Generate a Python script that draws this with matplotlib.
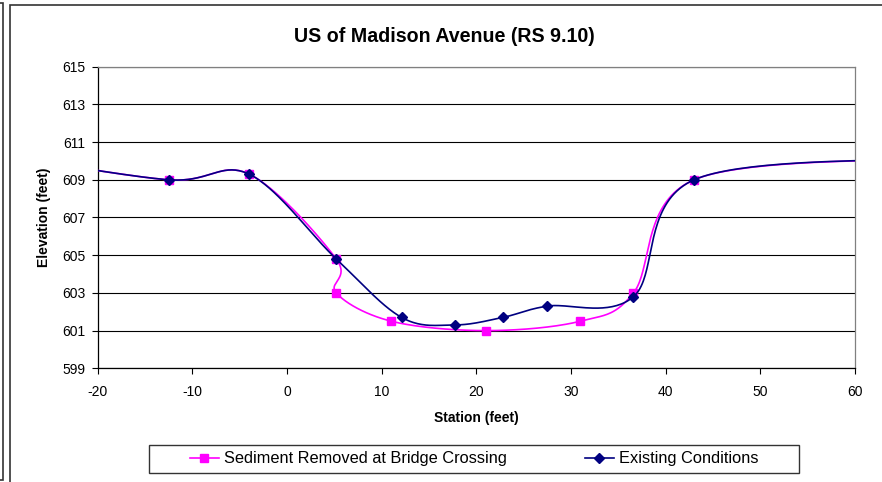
import numpy as np
import matplotlib
matplotlib.use('Agg')
import matplotlib.pyplot as plt
from matplotlib.patches import Rectangle
from matplotlib.lines import Line2D

plt.rcParams['font.family'] = ['Liberation Sans', 'DejaVu Sans']
plt.rcParams['axes.unicode_minus'] = False

# Datos (estación en pies, elevación en pies)
estacion_existente = [-30, -12.5, -4.0, 5.2, 12.1, 17.7, 22.8, 27.5, 36.6, 43.0, 70]
elev_existente = [610.3, 609.0, 609.3, 604.8, 601.7, 601.3, 601.7, 602.3, 602.8, 609.0, 610.15]
marcas_existente = slice(1, -1)

estacion_sedimento = [-30, -12.5, -4.0, 5.2, 5.2, 11.0, 21.0, 31.0, 36.6, 43.0, 70]
elev_sedimento = [610.3, 609.0, 609.3, 604.8, 603.0, 601.5, 601.0, 601.5, 603.0, 609.0, 610.15]
marcas_sedimento = slice(1, -1)

titulo = 'US of Madison Avenue (RS 9.10)'
nombre_sedimento = 'Sediment Removed at Bridge Crossing'
nombre_existente = 'Existing Conditions'

color_sedimento = '#FF00FF'
color_existente = '#000080'

W, H = 882, 482
fig = plt.figure(figsize=(W / 100, H / 100), dpi=100)

# Area del grafico en pixeles
izq, der, arriba, abajo = 97.7, 855.0, 66.7, 368.3
ax = fig.add_axes([izq / W, 1 - abajo / H, (der - izq) / W, (abajo - arriba) / H])
ax.set_xlim(-20, 60)
ax.set_ylim(599, 615)
ax.set_xticks(np.arange(-20, 61, 10))
ax.set_yticks(np.arange(599, 616, 2))
ax.yaxis.grid(True, color='black', linewidth=0.8)
ax.set_axisbelow(True)
for lado in ['top', 'right']:
    ax.spines[lado].set_color('#808080')
for lado in ['left', 'bottom']:
    ax.spines[lado].set_color('black')
for s in ax.spines.values():
    s.set_linewidth(0.9)
ax.tick_params(direction='out', length=4, width=0.8, labelsize=10)
ax.tick_params(axis='x', pad=8)
ax.tick_params(axis='y', pad=5)


def suavizado_excel(ax, xs, ys, n=40):
    # curva Bezier tipo Excel, calculada en pixeles
    pts = ax.transData.transform(np.column_stack([xs, ys]))
    P = np.vstack([pts[0], pts, pts[-1]])
    t = np.linspace(0, 1, n)[:, None]
    segs = []
    for i in range(1, len(P) - 2):
        p0, p1, p2, p3 = P[i - 1], P[i], P[i + 1], P[i + 2]
        c1 = p1 + (p2 - p0) / 6
        c2 = p2 - (p3 - p1) / 6
        segs.append((1 - t) ** 3 * p1 + 3 * (1 - t) ** 2 * t * c1
                    + 3 * (1 - t) * t ** 2 * c2 + t ** 3 * p2)
    curva = ax.transData.inverted().transform(np.vstack(segs))
    return curva[:, 0], curva[:, 1]


cx, cy = suavizado_excel(ax, estacion_sedimento, elev_sedimento)
ax.plot(cx, cy, color=color_sedimento, lw=1.2, zorder=3)
ax.plot(estacion_sedimento[marcas_sedimento], elev_sedimento[marcas_sedimento],
        ls='none', marker='s', ms=6, color=color_sedimento, zorder=4)

cx, cy = suavizado_excel(ax, estacion_existente, elev_existente)
ax.plot(cx, cy, color=color_existente, lw=1.2, zorder=5)
ax.plot(estacion_existente[marcas_existente], elev_existente[marcas_existente],
        ls='none', marker='D', ms=5, color=color_existente, zorder=6)

ax.set_xlabel('Station (feet)', fontsize=10, fontweight='bold', labelpad=9)
ax.set_ylabel('Elevation (feet)', fontsize=10, fontweight='bold', labelpad=8)
fig.text(444 / W, 1 - 37 / H, titulo, ha='center', va='center',
         fontsize=14.1, fontweight='bold')

# Marcos
fig.patches.append(Rectangle((10 / W, -0.1), 1.2, 1 - 5 / H + 0.1,
                             transform=fig.transFigure, fill=False,
                             edgecolor='#333333', lw=1.2))
fig.patches.append(Rectangle((-0.1, 1 - 480 / H), 0.1 + 3 / W, (480 - 3) / H,
                             transform=fig.transFigure, fill=False,
                             edgecolor='#333333', lw=1.2))
fig.patches.append(Rectangle((149 / W, 1 - 473 / H), 650 / W, 28 / H,
                             transform=fig.transFigure, fill=False,
                             edgecolor='#333333', lw=1.0))

manijas = [
    Line2D([], [], color=color_sedimento, marker='s', ms=6, lw=1.2),
    Line2D([], [], color=color_existente, marker='D', ms=5, lw=1.2),
]
fig.legend(manijas, [nombre_sedimento, nombre_existente], ncol=2,
           loc='center', bbox_to_anchor=(474 / W, 1 - 459 / H),
           frameon=False, fontsize=11.8, handlelength=1.77, handletextpad=0.3,
           columnspacing=4.75)

fig.savefig('out.png', dpi=100)
